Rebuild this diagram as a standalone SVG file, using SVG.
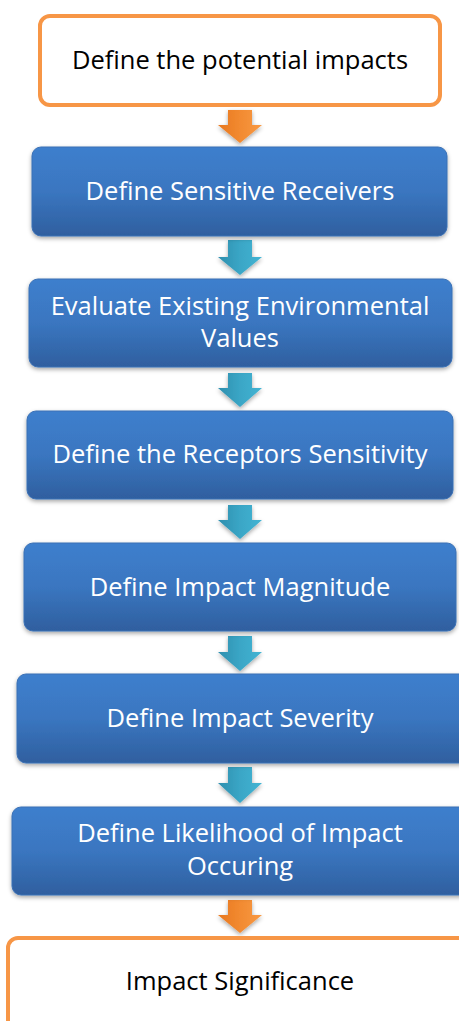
<svg xmlns="http://www.w3.org/2000/svg" width="459" height="1021" viewBox="0 0 459 1021">
<defs>
<linearGradient id="gBlue" x1="0" y1="0" x2="0" y2="1">
<stop offset="0" stop-color="#3e7fcd"/>
<stop offset="0.5" stop-color="#3a76c0"/>
<stop offset="1" stop-color="#2f5f9f"/>
</linearGradient>
<linearGradient id="gTeal" x1="0" y1="0" x2="1" y2="0">
<stop offset="0" stop-color="#2f8fae"/>
<stop offset="0.5" stop-color="#3aa6c6"/>
<stop offset="1" stop-color="#43b4d3"/>
</linearGradient>
<linearGradient id="gOrange" x1="0" y1="0" x2="1" y2="0">
<stop offset="0" stop-color="#e87820"/>
<stop offset="0.5" stop-color="#f28a30"/>
<stop offset="1" stop-color="#f89a45"/>
</linearGradient>
<filter id="sh" x="-10%" y="-10%" width="120%" height="130%">
<feDropShadow dx="0" dy="2" stdDeviation="2" flood-color="#000" flood-opacity="0.35"/>
</filter>
</defs>
<style>
.blue{fill:url(#gBlue);stroke:#3a70b5;stroke-width:1;filter:url(#sh)}
.white{fill:#fff;stroke:#f79646;stroke-width:4}
.tw{font-family:"Open Sans","Liberation Sans",sans-serif;font-size:25.5px;fill:#fff;text-anchor:middle}
.tb{font-family:"Open Sans","Liberation Sans",sans-serif;font-size:25.5px;fill:#000;text-anchor:middle}
.teal{fill:url(#gTeal);filter:url(#sh)}
.orange{fill:url(#gOrange);filter:url(#sh)}
</style>
<g id="connectors">
<polygon class="orange" points="228,110 252,110 252,125 262,125 240,143 218,125 228,125"/>
<polygon class="teal" points="228,240 252,240 252,257 262,257 240,275 218,257 228,257"/>
<polygon class="teal" points="228,373 252,373 252,388 262,388 240,407 218,388 228,388"/>
<polygon class="teal" points="228,505 252,505 252,520 262,520 240,539 218,520 228,520"/>
<polygon class="teal" points="228,636 252,636 252,652 262,652 240,671 218,652 228,652"/>
<polygon class="teal" points="228,767 252,767 252,783 262,783 240,803 218,783 228,783"/>
<polygon class="orange" points="228,900 252,900 252,915 262,915 240,933 218,915 228,915"/>
</g>
<g id="n1">
<rect class="white" x="40" y="16" width="400" height="89" rx="10"/>
<text class="tb" x="240" y="69">Define the potential impacts</text>
</g>
<g id="n2">
<rect class="blue" x="32" y="147" width="415" height="89" rx="9"/>
<text class="tw" x="240" y="200">Define Sensitive Receivers</text>
</g>
<g id="n3">
<rect class="blue" x="29" y="279" width="423" height="88" rx="9"/>
<text class="tw" x="240" y="315">Evaluate Existing Environmental</text>
<text class="tw" x="240" y="347">Values</text>
</g>
<g id="n4">
<rect class="blue" x="27" y="411" width="426" height="88" rx="9"/>
<text class="tw" x="240" y="463">Define the Receptors Sensitivity</text>
</g>
<g id="n5">
<rect class="blue" x="24" y="543" width="432" height="88" rx="9"/>
<text class="tw" x="240" y="596">Define Impact Magnitude</text>
</g>
<g id="n6">
<rect class="blue" x="17" y="674" width="460" height="89" rx="9"/>
<text class="tw" x="240" y="727">Define Impact Severity</text>
</g>
<g id="n7">
<rect class="blue" x="12" y="807" width="465" height="88" rx="9"/>
<text class="tw" x="240" y="842">Define Likelihood of Impact</text>
<text class="tw" x="240" y="875">Occuring</text>
</g>
<g id="n8">
<rect class="white" x="8" y="938" width="470" height="100" rx="10"/>
<text class="tb" x="240" y="990">Impact Significance</text>
</g>
</svg>
